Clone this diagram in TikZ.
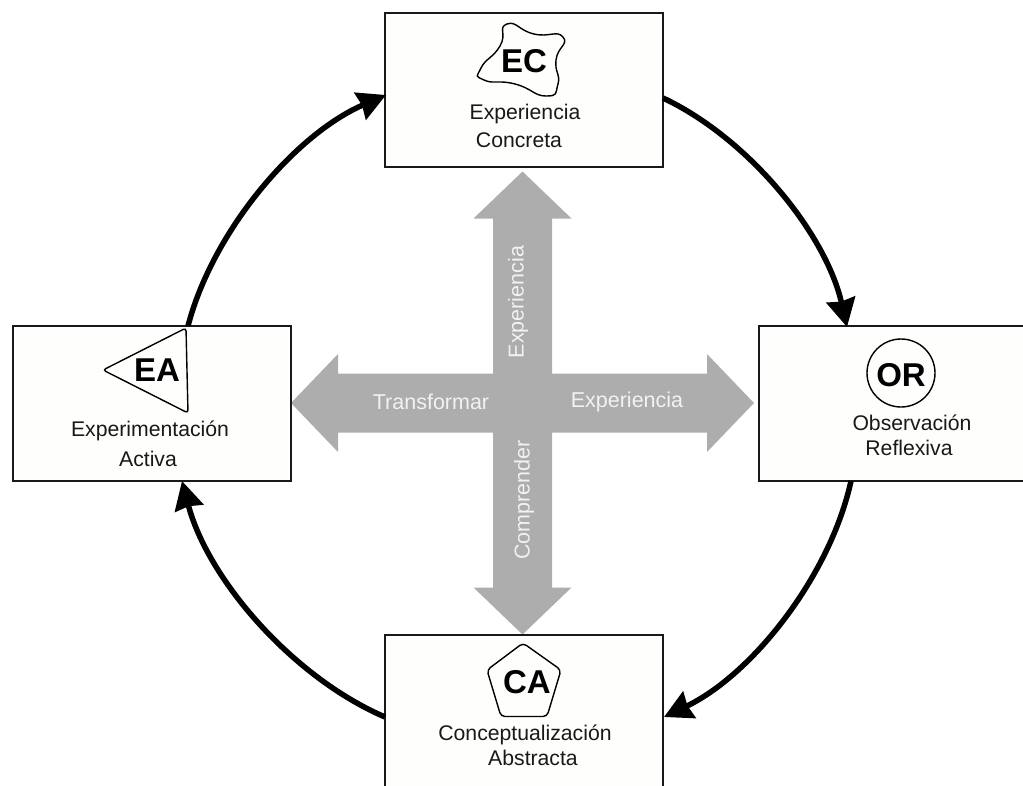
\documentclass[tikz,border=0pt]{standalone}
\usepackage{fontspec}
\setmainfont{Liberation Sans}
\usetikzlibrary{arrows.meta}
\definecolor{crossgray}{HTML}{ADADAD}
\definecolor{boxfill}{HTML}{FEFEFC}
\tikzset{
    phasebox/.style={draw=black!90, line width=1.5pt, fill=boxfill, minimum width=278pt, inner sep=0pt},
    phasetag/.style={font=\fontsize{33}{33}\selectfont\bfseries, inner sep=0pt},
    phasetext/.style={font=\fontsize{21.2}{21.2}\selectfont, inner sep=0pt, text=black!90},
    crosstext/.style={font=\fontsize{21.5}{21.5}\selectfont, inner sep=0pt, text=black!5},
    tagshape/.style={draw=black, line width=1.4pt},
    cyclearrow/.style={line width=5.5pt, looseness=0.83, -{Stealth[length=28pt,width=29pt,inset=2pt]}}
}

\begin{document}
\begin{tikzpicture}[x=1pt,y=-1pt]
    \useasboundingbox (0,0) rectangle (1023,785);
    \clip (0,0) rectangle (1023,785);

    % Grey cross, one arm for each direction
    \foreach \angle in {0,90,180,270} {
        \begin{scope}[shift={(522.5,403)},rotate=\angle]
            \fill[crossgray] (-29.5,-29.5) -- (184.5,-29.5) -- (184.5,-49) -- (231.5,0) -- (184.5,49) -- (184.5,29.5) -- (-29.5,29.5) -- cycle;
        \end{scope}
    }
    \node[crosstext, rotate=90] (armtop) at (518,302) {Experiencia};
    \node[crosstext, rotate=90] (armbottom) at (524,500) {Comprender};
    \node[crosstext] (armleft) at (431,402) {Transformar};
    \node[crosstext] (armright) at (627,402) {Experiencia};

    % The four boxes
    \node[phasebox, minimum height=154pt] (ec) at (524,90) {};
    \node[phasebox, minimum height=155pt] (ea) at (152,403.5) {};
    \node[phasebox, minimum height=155pt, minimum width=300pt] (or) at (909,403.5) {};
    \node[phasebox, minimum height=190pt] (ca) at (524,730) {};

    % Free ends of the cycle on the box edges
    \coordinate (ecout) at (663,98);
    \coordinate (orin) at (847,327);
    \coordinate (orout) at (851,481);
    \coordinate (cain) at (664,717);
    \coordinate (caout) at (385,717);
    \coordinate (eain) at (182,481);
    \coordinate (eaout) at (188,326);
    \coordinate (ecin) at (386,95);

    \draw[cyclearrow] (ecout) to[bend left=26] (orin);
    \draw[cyclearrow] (orout) to[bend left=26] (cain);
    \draw[cyclearrow] (caout) to[bend left=26] (eain);
    \draw[cyclearrow] (eaout) to[bend left=26] (ecin);

    % Tag shapes
    \draw[tagshape] plot[smooth cycle, tension=1] coordinates {
        (507,24) (534,34) (563,37) (556,60) (558,84) (546,96)
        (515,84) (484,80) (481,68) (500,46)};
    \draw[tagshape, rounded corners=3pt] (186,328) -- (103,370) -- (188,413) -- cycle;
    \draw[tagshape, rounded corners=4pt] (523,643) -- (561,670) -- (547,716.5) -- (501,716.5) -- (487,670) -- cycle;
    \node[circle, tagshape, minimum size=68pt, inner sep=0pt] (orring) at (901,373) {};

    % Tags and names
    \node[phasetag] (ectag) at (524,61) {EC};
    \node[phasetag] (eatag) at (157,370) {EA};
    \node[phasetag] (ortag) at (901,375) {OR};
    \node[phasetag] (catag) at (527,682) {CA};

    \node[phasetext] (ecname) at (525,114) {Experiencia};
    \node[phasetext] (ecnamesub) at (519,140) {Concreta};
    \node[phasetext] (eaname) at (150,431) {Experimentación};
    \node[phasetext] (eanamesub) at (148,459) {Activa};
    \node[phasetext] (orname) at (912,423) {Observación};
    \node[phasetext] (ornamesub) at (909,448) {Reflexiva};
    \node[phasetext] (caname) at (525,735) {Conceptualización};
    \node[phasetext] (canamesub) at (533,758) {Abstracta};
\end{tikzpicture}
\end{document}
